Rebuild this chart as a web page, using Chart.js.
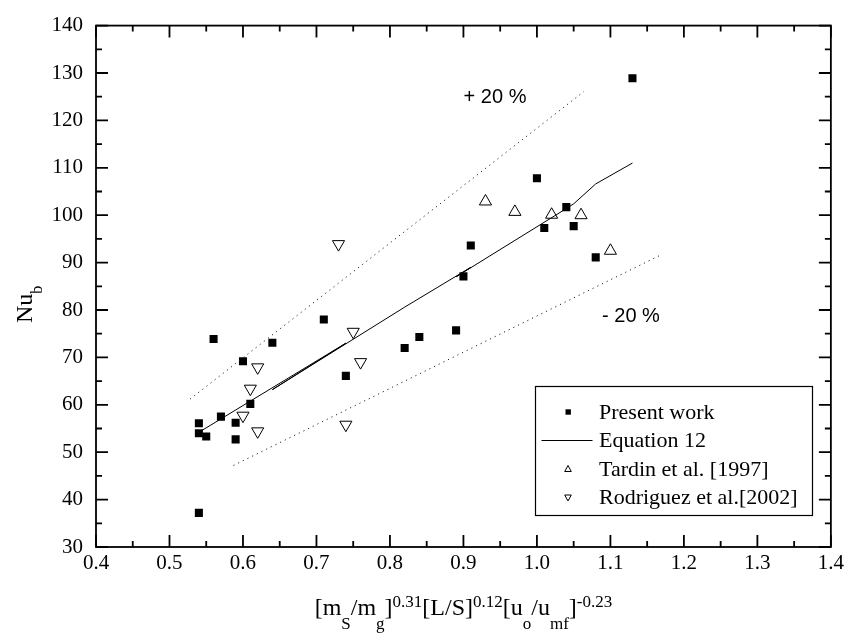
<!DOCTYPE html>
<html>
<head>
<meta charset="utf-8">
<script src="https://cdn.jsdelivr.net/npm/chart.js@4.4.1/dist/chart.umd.min.js"></script>
<style>
  body { margin: 0; background: #fff; }
  canvas { display: block; }
</style>
</head>
<body>
<canvas id="nuChart" width="848" height="634"></canvas>
<script>
// values
const presentX = [0.54, 0.54, 0.54, 0.55, 0.56, 0.57, 0.59, 0.59, 0.60, 0.61, 0.64, 0.71, 0.74, 0.82, 0.84, 0.89, 0.90, 0.91, 1.00, 1.01, 1.04, 1.05, 1.08, 1.13];
const presentY = [56.1, 54.0, 37.2, 53.3, 73.9, 57.5, 56.2, 52.7, 69.2, 60.2, 73.1, 78.0, 66.1, 72.0, 74.3, 75.7, 87.1, 93.6, 107.8, 97.3, 101.7, 97.7, 91.1, 128.9];

const eqX = [0.54, 0.74, 0.64, 0.82, 0.91, 0.89, 1.04, 1.05, 1.08, 1.13];
const eqY = [54.2, 73.0, 63.2, 80.6, 89.0, 87.0, 101.4, 102.4, 106.6, 111.0];

const tardinX = [0.93, 0.97, 1.02, 1.06, 1.10];
const tardinY = [102.9, 100.7, 100.1, 100.0, 92.5];

const rodX = [0.60, 0.61, 0.62, 0.62, 0.73, 0.74, 0.75, 0.76];
const rodY = [57.7, 63.4, 67.9, 54.4, 93.9, 55.8, 75.4, 69.0];

const plusX = [0.528, 1.064];
const plusY = [61.2, 126.1];
const minusX = [0.587, 1.171];
const minusY = [47.2, 91.8];

const legendNames = ['Present work', 'Equation 12', 'Tardin et al. [1997]', 'Rodriguez et al.[2002]'];

const serif = '"Liberation Serif", "Times New Roman", serif';
const sans = '"Liberation Sans", Arial, sans-serif';

function pts(xs, ys) {
    return xs.map((x, i) => ({ x: x, y: ys[i] }));
}

// inward ticks on all four sides + frame
const framePlugin = {
    id: 'frame',
    afterDraw(chart) {
        const ctx = chart.ctx;
        const a = chart.chartArea;
        const xs = chart.scales.x;
        const ys = chart.scales.y;
        ctx.save();
        ctx.strokeStyle = '#000';
        ctx.lineWidth = 1.8;
        ctx.strokeRect(a.left, a.top, a.right - a.left, a.bottom - a.top);
        ctx.beginPath();
        for (let i = 0; i <= 20; i++) {
            const v = 0.4 + i * 0.05;
            const p = xs.getPixelForValue(v);
            const len = i % 2 === 0 ? 12 : 6;
            ctx.moveTo(p, a.bottom); ctx.lineTo(p, a.bottom - len);
            ctx.moveTo(p, a.top); ctx.lineTo(p, a.top + len);
        }
        for (let i = 0; i <= 22; i++) {
            const v = 30 + i * 5;
            const p = ys.getPixelForValue(v);
            const len = i % 2 === 0 ? 12 : 6;
            ctx.moveTo(a.left, p); ctx.lineTo(a.left + len, p);
            ctx.moveTo(a.right, p); ctx.lineTo(a.right - len, p);
        }
        ctx.stroke();
        ctx.restore();
    }
};

// draws runs of text with sub/superscripts
function setPartFont(ctx, p) {
    ctx.font = p[1] === 0 ? '24px ' + serif : '17px ' + serif;
}

function drawParts(ctx, parts, x, y) {
    let cx = x;
    parts.forEach(p => {
        setPartFont(ctx, p);
        ctx.fillText(p[0], cx, y + p[1]);
        cx += ctx.measureText(p[0]).width;
    });
    return cx - x;
}

function partsWidth(ctx, parts) {
    let w = 0;
    parts.forEach(p => {
        setPartFont(ctx, p);
        w += ctx.measureText(p[0]).width;
    });
    return w;
}

const labelPlugin = {
    id: 'labels',
    afterDraw(chart) {
        const ctx = chart.ctx;
        const a = chart.chartArea;
        ctx.save();
        ctx.fillStyle = '#000';
        ctx.textBaseline = 'alphabetic';

        // x title
        const xParts = [['[m', 0], ['S', 14], ['/m', 0], ['g', 14], [']', 0], ['0.31', -8],
            ['[L/S]', 0], ['0.12', -8], ['[u', 0], ['o', 14], ['/u', 0], ['mf', 14], [']', 0], ['-0.23', -8]];
        const w = partsWidth(ctx, xParts);
        drawParts(ctx, xParts, (a.left + a.right) / 2 - w / 2, 615);

        // y title
        ctx.save();
        ctx.translate(32, 323);
        ctx.rotate(-Math.PI / 2);
        ctx.font = '24px ' + serif;
        ctx.fillText('Nu', 0, 0);
        const nw = ctx.measureText('Nu').width;
        ctx.font = '16px ' + serif;
        ctx.fillText('b', nw, 10);
        ctx.restore();

        // band labels
        ctx.font = '20px ' + sans;
        ctx.textAlign = 'center';
        ctx.textBaseline = 'middle';
        ctx.fillText('+ 20 %', 495, 97);
        ctx.fillText('- 20 %', 631, 316);

        // legend
        const bx = 535.5, by = 386.5, bw = 277, bh = 129;
        ctx.fillStyle = '#fff';
        ctx.fillRect(bx, by, bw, bh);
        ctx.strokeStyle = '#000';
        ctx.lineWidth = 1.2;
        ctx.strokeRect(bx, by, bw, bh);
        const rows = [412, 440.5, 469, 497.5];
        ctx.textAlign = 'left';
        ctx.font = '22px ' + serif;
        ctx.fillStyle = '#000';
        legendNames.forEach((name, i) => {
            const ry = rows[i];
            ctx.fillText(name, 599, ry + 1);
        });
        ctx.fillRect(565.5, rows[0] - 2.7, 5.4, 5.4);
        ctx.lineWidth = 1;
        ctx.beginPath();
        ctx.moveTo(541.5, rows[1]); ctx.lineTo(592.5, rows[1]);
        ctx.stroke();
        ctx.beginPath();
        ctx.moveTo(568, rows[2] - 3.5); ctx.lineTo(571.3, rows[2] + 2.5); ctx.lineTo(564.7, rows[2] + 2.5); ctx.closePath();
        ctx.stroke();
        ctx.beginPath();
        ctx.moveTo(568, rows[3] + 3.5); ctx.lineTo(571.3, rows[3] - 2.5); ctx.lineTo(564.7, rows[3] - 2.5); ctx.closePath();
        ctx.stroke();
        ctx.restore();
    }
};

new Chart(document.getElementById('nuChart'), {
    type: 'scatter',
    data: {
        datasets: [
            {
                label: '+20%', data: pts(plusX, plusY), showLine: true, pointRadius: 0,
                borderColor: '#222', borderWidth: 1, borderDash: [1.2, 4]
            },
            {
                label: '-20%', data: pts(minusX, minusY), showLine: true, pointRadius: 0,
                borderColor: '#222', borderWidth: 1, borderDash: [1.2, 4]
            },
            {
                label: legendNames[1], data: pts(eqX, eqY), showLine: true, pointRadius: 0,
                borderColor: '#000', borderWidth: 1
            },
            {
                label: legendNames[2], data: pts(tardinX, tardinY), pointStyle: 'triangle',
                pointRadius: 7, backgroundColor: '#fff', borderColor: '#000', borderWidth: 1
            },
            {
                label: legendNames[3], data: pts(rodX, rodY), pointStyle: 'triangle', rotation: 180,
                pointRadius: 7, backgroundColor: '#fff', borderColor: '#000', borderWidth: 1
            },
            {
                label: legendNames[0], data: pts(presentX, presentY), pointStyle: 'rect',
                pointRadius: 5.7, backgroundColor: '#000', borderColor: '#000', borderWidth: 0
            }
        ]
    },
    options: {
        responsive: false,
        animation: false,
        layout: { padding: { top: 20, right: 14, left: 0, bottom: 0 } },
        plugins: { legend: { display: false }, tooltip: { enabled: false } },
        scales: {
            x: {
                type: 'linear', min: 0.4, max: 1.4,
                grid: { display: false, drawTicks: false },
                border: { display: false },
                ticks: {
                    stepSize: 0.1, padding: 4, color: '#000',
                    font: { family: serif, size: 21 },
                    callback: v => v.toFixed(1)
                },
                afterFit: s => { s.height = 87; }
            },
            y: {
                type: 'linear', min: 30, max: 140,
                grid: { display: false, drawTicks: false },
                border: { display: false },
                ticks: {
                    stepSize: 10, padding: 13, color: '#000',
                    font: { family: serif, size: 21 }
                },
                afterFit: s => { s.width = 96; }
            }
        }
    },
    plugins: [framePlugin, labelPlugin]
});
</script>
</body>
</html>
